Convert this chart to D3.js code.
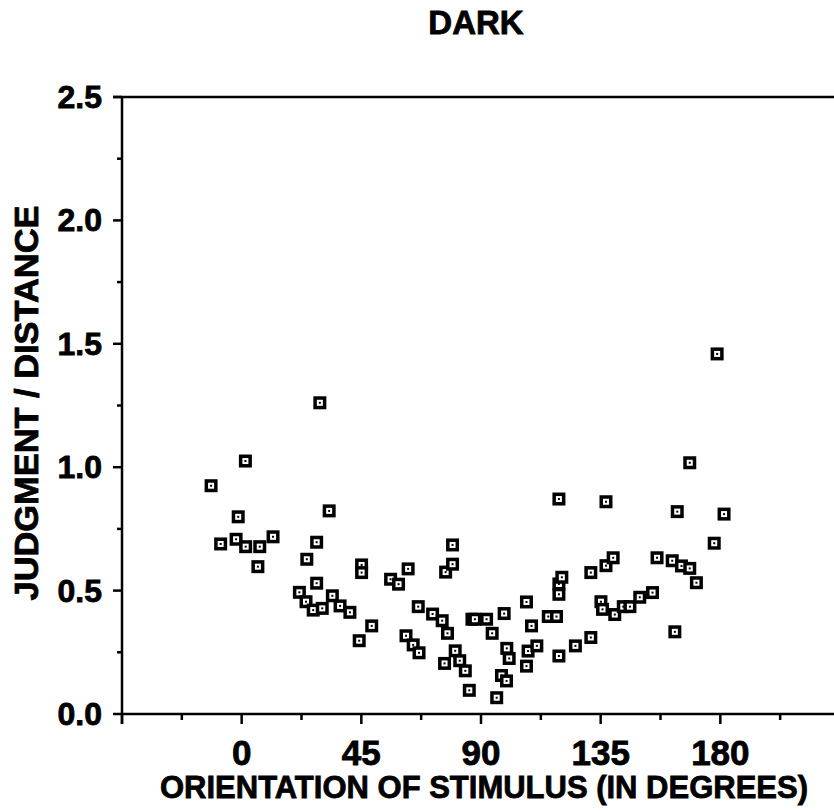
<!DOCTYPE html>
<html>
<head>
<meta charset="utf-8">
<script src="https://cdn.jsdelivr.net/npm/d3@7"></script>
<style>
  body { margin: 0; background: #fff; }
  text { font-family: "Liberation Sans", Arial, sans-serif; font-weight: bold; fill: #000; stroke: #000; stroke-width: 0.8px; }
</style>
</head>
<body>
<div id="chart"></div>
<script>
// values
var orientation = [-11.5, -7.9, -2.1, -1.3, 1.4, 1.5, 6.1, 6.8, 11.8, 21.7,
  24.2, 24.5, 26.9, 28.2, 28.2, 29.4, 30.3, 32.9, 34.1, 37.0,
  40.7, 44.2, 45.1, 45.1, 48.9, 56.0, 59.0, 61.8, 62.6, 64.5,
  66.4, 66.7, 71.8, 75.4, 76.3, 76.7, 77.4, 79.3, 79.3, 80.3,
  82.0, 84.1, 85.6, 86.6, 87.7, 92.1, 94.2, 95.9, 97.7, 98.7,
  99.6, 99.7, 100.6, 107.1, 107.1, 107.7, 109.0, 111.0, 115.3, 118.4,
  119.3, 119.3, 119.3, 119.3, 120.4, 125.5, 131.3, 131.3, 135.1, 135.7,
  137.0, 137.0, 139.7, 140.3, 143.5, 146.0, 149.7, 154.5, 156.2, 161.9,
  162.9, 163.8, 165.4, 168.5, 168.5, 171.0, 177.7, 178.8, 181.4];
var ratio = [0.925, 0.689, 0.708, 0.799, 1.025, 0.678, 0.597, 0.678, 0.718, 0.493,
  0.455, 0.627, 0.421, 0.696, 0.530, 1.261, 0.428, 0.823, 0.479, 0.438,
  0.412, 0.297, 0.604, 0.573, 0.357, 0.546, 0.526, 0.317, 0.588, 0.280,
  0.435, 0.248, 0.405, 0.378, 0.205, 0.575, 0.327, 0.685, 0.607, 0.256,
  0.216, 0.175, 0.096, 0.384, 0.384, 0.384, 0.327, 0.066, 0.156, 0.407,
  0.134, 0.266, 0.225, 0.454, 0.194, 0.255, 0.357, 0.276, 0.395, 0.395,
  0.871, 0.527, 0.485, 0.235, 0.554, 0.276, 0.573, 0.310, 0.455, 0.424,
  0.860, 0.601, 0.633, 0.403, 0.435, 0.435, 0.473, 0.492, 0.633, 0.621,
  0.333, 0.820, 0.600, 1.018, 0.590, 0.532, 0.692, 1.459, 0.810];
var xTickValues = [0, 45, 90, 135, 180];
var yTickValues = [0, 0.5, 1.0, 1.5, 2.0, 2.5];

var data = orientation.map(function(d, i) { return { deg: d, r: ratio[i] }; });

var width = 834, height = 812;
var svg = d3.select("#chart").append("svg")
  .attr("width", width)
  .attr("height", height);

// scales
var x = d3.scaleLinear().domain([-45, 225]).range([122, 840]);
var y = d3.scaleLinear().domain([0, 2.5]).range([714, 97]);

// top frame line
svg.append("line")
  .attr("x1", 113).attr("x2", width)
  .attr("y1", y(2.5)).attr("y2", y(2.5))
  .attr("stroke", "#000").attr("stroke-width", 2.5);

// x axis: major ticks every 45, minor halfway
var xAxis = svg.append("g").attr("transform", "translate(0," + y(0) + ")");
xAxis.append("line")
  .attr("x1", x(-45)).attr("x2", width)
  .attr("stroke", "#000").attr("stroke-width", 2.5);
xAxis.selectAll(".xmaj").data([-45, 0, 45, 90, 135, 180]).enter().append("line")
  .attr("x1", function(d) { return x(d); }).attr("x2", function(d) { return x(d); })
  .attr("y1", 0).attr("y2", 10)
  .attr("stroke", "#000").attr("stroke-width", 2.5);
xAxis.selectAll(".xmin").data([-22.5, 22.5, 67.5, 112.5, 157.5, 202.5]).enter().append("line")
  .attr("x1", function(d) { return x(d); }).attr("x2", function(d) { return x(d); })
  .attr("y1", 0).attr("y2", 6)
  .attr("stroke", "#000").attr("stroke-width", 2.5);
xAxis.selectAll(".xlab").data(xTickValues).enter().append("text")
  .attr("x", function(d) { return x(d); })
  .attr("y", 51)
  .attr("text-anchor", "middle")
  .style("font-size", "35px")
  .text(function(d) { return d; });

// y axis
var yAxis = svg.append("g").attr("transform", "translate(" + x(-45) + ",0)");
yAxis.append("line")
  .attr("y1", y(2.5)).attr("y2", y(0) + 10)
  .attr("stroke", "#000").attr("stroke-width", 2.5);
yAxis.selectAll(".ymaj").data(yTickValues).enter().append("line")
  .attr("x1", -9).attr("x2", 0)
  .attr("y1", function(d) { return y(d); }).attr("y2", function(d) { return y(d); })
  .attr("stroke", "#000").attr("stroke-width", 2.5);
yAxis.selectAll(".ymin").data([0.25, 0.75, 1.25, 1.75, 2.25]).enter().append("line")
  .attr("x1", -5).attr("x2", 0)
  .attr("y1", function(d) { return y(d); }).attr("y2", function(d) { return y(d); })
  .attr("stroke", "#000").attr("stroke-width", 2.5);
yAxis.selectAll(".ylab").data(yTickValues).enter().append("text")
  .attr("x", -20)
  .attr("y", function(d) { return y(d) + 11; })
  .attr("text-anchor", "end")
  .style("font-size", "32px")
  .text(function(d) { return d.toFixed(1); });

// titles
svg.append("text")
  .attr("x", 476).attr("y", 34)
  .attr("text-anchor", "middle")
  .style("font-size", "33px")
  .text("DARK");

svg.append("text")
  .attr("x", 484).attr("y", 798)
  .attr("text-anchor", "middle")
  .attr("textLength", 648).attr("lengthAdjust", "spacingAndGlyphs")
  .style("font-size", "32px")
  .text("ORIENTATION OF STIMULUS (IN DEGREES)");

svg.append("text")
  .attr("transform", "translate(38,403) rotate(-90)")
  .attr("text-anchor", "middle")
  .attr("textLength", 395).attr("lengthAdjust", "spacingAndGlyphs")
  .style("font-size", "34px")
  .text("JUDGMENT  /  DISTANCE");

// points: square with hollow centre and a dot
var pts = svg.append("g").selectAll("g").data(data).enter().append("g")
  .attr("transform", function(d) { return "translate(" + x(d.deg) + "," + y(d.r) + ")"; });
pts.append("rect").attr("x", -6.5).attr("y", -6.5).attr("width", 13).attr("height", 13).attr("fill", "#000");
pts.append("rect").attr("x", -3).attr("y", -3).attr("width", 6).attr("height", 6).attr("fill", "#fff");
pts.append("rect").attr("x", -1).attr("y", -1).attr("width", 2).attr("height", 2).attr("fill", "#000");
</script>
</body>
</html>
